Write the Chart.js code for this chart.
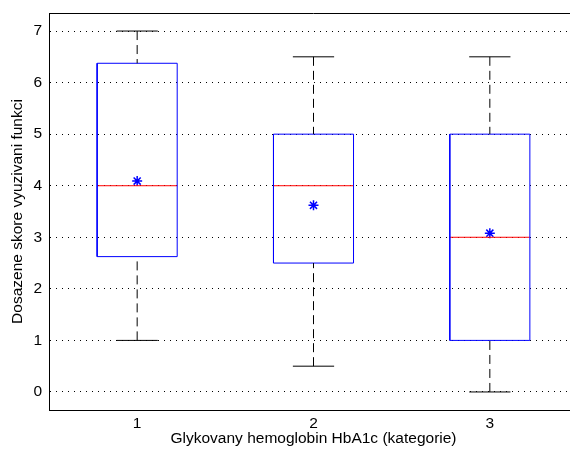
<!DOCTYPE html>
<html><head><meta charset="utf-8">
<script src="https://cdn.jsdelivr.net/npm/chart.js@4/dist/chart.umd.min.js"></script>
<style>html,body{margin:0;padding:0;background:#fff;overflow:hidden}#wrap{width:570px;height:449px;overflow:hidden}</style>
</head><body><div id="wrap"><canvas id="c" width="578" height="449"></canvas></div>
<script>
const categories = ['1', '2', '3'];
const positions = [1, 2, 3];
const q1 = [2.625, 2.5, 1];
const q3 = [6.375, 5, 5];
const medians = [4, 4, 3];
const means = [4.09, 3.62, 3.08];
const whiskerLow = [1, 0.5, 0];
const whiskerHigh = [7, 6.5, 6.5];
const yTicks = [0, 1, 2, 3, 4, 5, 6, 7];
const xTitle = 'Glykovany hemoglobin HbA1c (kategorie)';
const yTitle = 'Dosazene skore vyuzivani funkci';

const BOX_HALF = 0.227, CAP_HALF = 0.117;
const FONT = {family: '"Liberation Sans", Arial, sans-serif', size: 15.5};

function segs(fn) {
  const pts = [];
  positions.forEach((p, i) => { pts.push(...fn(p, i)); pts.push({x: p, y: null}); });
  return pts;
}
const lineBase = {type: 'line', pointRadius: 0, borderWidth: 1, tension: 0, spanGaps: false, fill: false};

const datasets = [
  Object.assign({}, lineBase, {label: 'whiskers', borderColor: '#000', borderDash: [9, 5],
    data: segs((p, i) => [{x: p, y: whiskerHigh[i]}, {x: p, y: q3[i]}, {x: p, y: null}, {x: p, y: whiskerLow[i]}, {x: p, y: q1[i]}])}),
  Object.assign({}, lineBase, {label: 'caps', borderColor: '#000',
    data: segs((p, i) => [{x: p - CAP_HALF, y: whiskerHigh[i]}, {x: p + CAP_HALF, y: whiskerHigh[i]}, {x: p, y: null}, {x: p - CAP_HALF, y: whiskerLow[i]}, {x: p + CAP_HALF, y: whiskerLow[i]}])}),
  Object.assign({}, lineBase, {label: 'boxes', borderColor: '#0000ff',
    data: segs((p, i) => [{x: p - BOX_HALF, y: q1[i]}, {x: p + BOX_HALF, y: q1[i]}, {x: p + BOX_HALF, y: q3[i]}, {x: p - BOX_HALF, y: q3[i]}, {x: p - BOX_HALF, y: q1[i]}])}),
  Object.assign({}, lineBase, {label: 'medians', borderColor: '#ff0000',
    data: segs((p, i) => [{x: p - BOX_HALF, y: medians[i]}, {x: p + BOX_HALF, y: medians[i]}])}),
  {type: 'line', label: 'means', showLine: false, pointStyle: 'star', pointRadius: 5, pointBorderWidth: 1.5,
    pointBorderColor: '#0000ff', pointBackgroundColor: '#0000ff',
    data: positions.map((p, i) => ({x: p, y: means[i]}))}
];

const frameTop = {
  id: 'frameTop',
  afterDraw(chart) {
    const {ctx, chartArea: a} = chart;
    ctx.save();
    ctx.strokeStyle = '#000';
    ctx.lineWidth = 1;
    ctx.beginPath();
    ctx.moveTo(a.left, Math.round(a.top) + 0.5);
    ctx.lineTo(a.right, Math.round(a.top) + 0.5);
    ctx.stroke();
    ctx.restore();
  }
};

new Chart(document.getElementById('c'), {
  type: 'line',
  data: {datasets},
  plugins: [frameTop],
  options: {
    responsive: false,
    animation: false,
    devicePixelRatio: 1,
    layout: {autoPadding: false, padding: {top: 13, right: 0, bottom: 0, left: 0}},
    plugins: {legend: {display: false}, tooltip: {enabled: false}},
    scales: {
      x: {
        type: 'linear', min: 0.5, max: 3.5,
        afterBuildTicks: s => { s.ticks = positions.map(v => ({value: v})); },
        afterFit: s => { s.height = 39; s.paddingLeft = 0; s.paddingRight = 0; },
        ticks: {color: '#000', font: FONT, padding: 4, maxRotation: 0,
          callback: (v, i) => categories[i]},
        grid: {display: false, drawTicks: false},
        border: {display: true, color: '#000', width: 1},
        title: {display: true, text: xTitle, color: '#000', font: FONT, padding: {top: 0, bottom: 1}}
      },
      y: {
        type: 'linear', min: -0.35, max: 7.35,
        afterBuildTicks: s => { s.ticks = yTicks.map(v => ({value: v})); },
        afterFit: s => { s.width = 49; s.paddingTop = 0; s.paddingBottom = 0; },
        ticks: {color: '#000', font: FONT, padding: 7},
        grid: {display: true, drawTicks: false, color: '#000', lineWidth: 1},
        border: {display: true, color: '#000', width: 1, dash: [1, 5]},
        title: {display: true, text: yTitle, color: '#000', font: FONT, padding: {top: 8, bottom: 0}}
      }
    }
  }
});
</script>
</body></html>
